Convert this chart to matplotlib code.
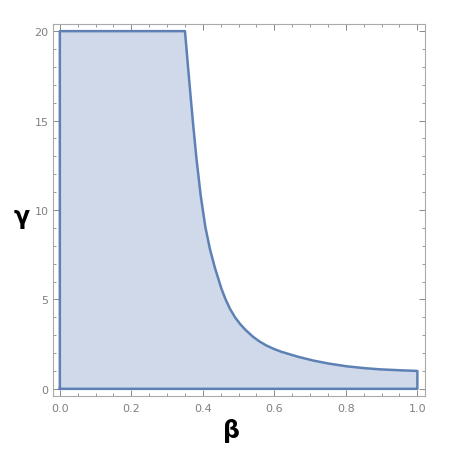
import matplotlib.pyplot as plt
from matplotlib.ticker import MultipleLocator

# upper boundary of the region
beta = [0.0, 0.350, 0.359, 0.366, 0.373, 0.382, 0.394, 0.407, 0.420, 0.434,
        0.452, 0.463, 0.476, 0.490, 0.504, 0.520, 0.541, 0.560, 0.578, 0.600,
        0.620, 0.665, 0.709, 0.750, 0.802, 0.850, 0.895, 0.950, 1.000]
gamma = [20.0, 20.0, 17.9, 16.3, 14.75, 12.9, 10.8, 9.05, 7.8, 6.75,
         5.6, 5.03, 4.47, 4.0, 3.63, 3.28, 2.90, 2.63, 2.42, 2.22,
         2.07, 1.80, 1.58, 1.42, 1.26, 1.16, 1.09, 1.04, 1.00]
x_ticks = [0.0, 0.2, 0.4, 0.6, 0.8, 1.0]
y_ticks = [0, 5, 10, 15, 20]

fig = plt.figure(figsize=(4.63, 4.56), dpi=100)
ax = fig.add_axes([0.1138, 0.1294, 0.8031, 0.8158])

# closed polygon: left edge, upper curve, right edge, bottom
xs = [beta[0]] + beta + [beta[-1], beta[0]]
ys = [0] + gamma + [0, 0]
ax.fill(xs, ys, facecolor='#cfd9e9', edgecolor='none')
ax.plot(xs, ys, color='#5e81b5', lw=1.8, solid_joinstyle='round')

ax.set_xlim(-0.02, 1.02)
ax.set_ylim(-0.4, 20.4)
ax.set_xticks(x_ticks)
ax.set_xticklabels([f'{v:.1f}' for v in x_ticks])
ax.set_yticks(y_ticks)
ax.xaxis.set_minor_locator(MultipleLocator(0.05))
ax.yaxis.set_minor_locator(MultipleLocator(1))

gray = '#888888'
for s in ax.spines.values():
    s.set_color('#aaaaaa')
    s.set_linewidth(0.8)
ax.tick_params(which='both', direction='in', top=True, right=True,
               colors=gray, labelcolor='#808080', labelsize=8)
ax.tick_params(which='major', length=4, width=0.7)
ax.tick_params(which='minor', length=2.2, width=0.6)
ax.tick_params(axis='x', pad=5)
ax.tick_params(axis='y', pad=3)

fig.text(0.501, 0.055, 'β', fontsize=17, fontweight='bold', ha='center', va='center')
fig.text(0.047, 0.525, 'γ', fontsize=17, fontweight='bold', ha='center', va='center')

fig.savefig('out.png', dpi=100)
